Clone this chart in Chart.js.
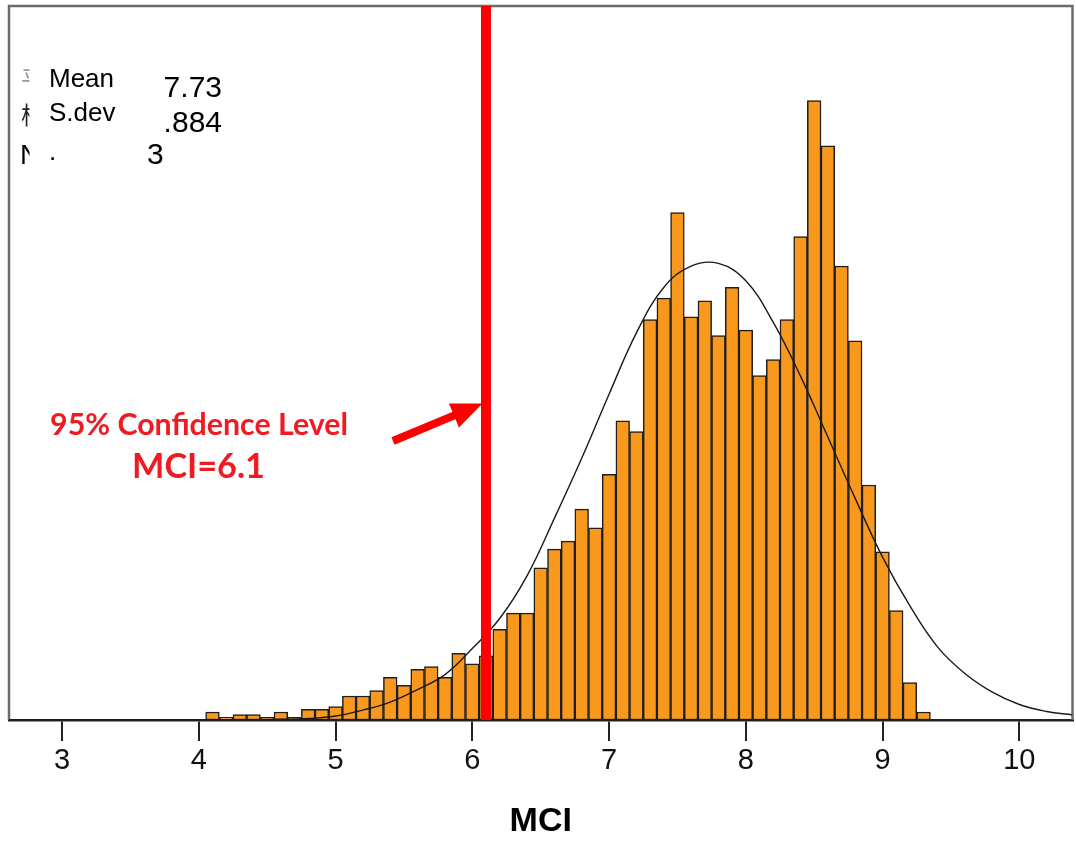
<!DOCTYPE html>
<html><head><meta charset="utf-8">
<script src="https://cdn.jsdelivr.net/npm/chart.js@4.4.1/dist/chart.umd.min.js"></script>
<style>html,body{margin:0;padding:0;background:#fff}canvas{display:block}</style>
</head><body>
<canvas id="c" width="1076" height="851"></canvas>
<script>
// ---- data ----
const binCenters = [4.1,4.2,4.3,4.4,4.5,4.6,4.7,4.8,4.9,5.0,
  5.1,5.2,5.3,5.4,5.5,5.6,5.7,5.8,5.9,6.0,
  6.1,6.2,6.3,6.4,6.5,6.6,6.7,6.8,6.9,7.0,
  7.1,7.2,7.3,7.4,7.5,7.6,7.7,7.8,7.9,8.0,
  8.1,8.2,8.3,8.4,8.5,8.6,8.7,8.8,8.9,9.0,
  9.1,9.2,9.3];
const frequencies = [3,1,2,2,1,3,1,4,4,5,
  9,9,11,16,13,19,20,16,25,21,
  24,34,40,40,57,64,67,79,72,92,
  112,108,150,158,190,151,157,144,162,146,
  129,135,150,181,232,215,170,142,88,63,
  41,14,3];
// normal curve at regular steps
const curveX = [2.61,3.0,3.5,4.0,4.2,4.4,4.6,4.8,5.0,5.2,5.4,5.6,5.8,6.0,6.2,6.4,6.6,6.8,7.0,7.2,7.4,7.6,7.8,8.0,8.2,8.4,8.6,8.8,9.0,9.2,9.4,9.6,9.8,10.0,10.2,10.389];
const curveY = [0,0,0,0.03,0.07,0.15,0.28,0.55,1.5,3.7,6.7,11.4,17,26.8,38,54,75.5,98,122,145,162,170,171,164.5,149,128.8,106,83,61,42.7,27.5,17.5,10.5,5.8,3.2,1.9];
const tickValues = [3,4,5,6,7,8,9,10];
const xMin = 2.612, xMax = 10.389, yMax = 267.4;
const cutoff = 6.1;
const statLabels = ['Mean','S.dev','.'];
const statValues = ['7.73','.884','3'];
const hiddenLabels = ['平','標','N'];
const annotationLines = ['95% Confidence Level','MCI=6.1'];
const arrowFrom = [5.42,104.5];
const arrowTo = [6.075,118.5];
const axisTitle = 'MCI';

Chart.defaults.font.family = "'Liberation Sans', Arial, sans-serif";

const overlay = {
  id: 'overlay',
  beforeDatasetsDraw(chart) {
    const {ctx, chartArea: a} = chart;
    ctx.save();
    ctx.strokeStyle = '#6b6b6b';
    ctx.lineWidth = 2.5;
    ctx.beginPath();
    ctx.moveTo(a.left, a.bottom); ctx.lineTo(a.left, a.top);
    ctx.lineTo(a.right, a.top); ctx.lineTo(a.right, a.bottom);
    ctx.stroke();
    ctx.restore();
  },
  afterDraw(chart) {
    const {ctx, scales: {x, y}} = chart;
    ctx.save();
    // clipped remnants of original labels
    ctx.save();
    ctx.beginPath(); ctx.rect(18, 60, 11.5, 110); ctx.clip();
    ctx.textAlign = 'left'; ctx.textBaseline = 'alphabetic';
    ctx.font = "24px 'Noto Sans CJK TC', sans-serif";
    ctx.fillStyle = '#999'; ctx.fillText(hiddenLabels[0], 21, 88);
    ctx.fillStyle = '#222'; ctx.fillText(hiddenLabels[1], 21, 124);
    ctx.font = "28px 'Liberation Sans', Arial, sans-serif";
    ctx.fillStyle = '#000'; ctx.fillText(hiddenLabels[2], 20, 164);
    ctx.restore();

    // stats box
    ctx.fillStyle = '#000';
    ctx.textBaseline = 'alphabetic';
    ctx.textAlign = 'left';
    ctx.font = "26px 'Liberation Sans', Arial, sans-serif";
    ctx.fillText(statLabels[0], 49, 87);
    ctx.fillText(statLabels[1], 49, 121);
    ctx.fillText(statLabels[2], 49, 160);
    ctx.font = "30px 'Liberation Sans', Arial, sans-serif";
    ctx.textAlign = 'right';
    ctx.fillText(statValues[0], 222, 97);
    ctx.fillText(statValues[1], 222, 132);
    ctx.textAlign = 'left';
    ctx.fillText(statValues[2], 147, 164);

    // annotation text
    ctx.fillStyle = '#f01a22';
    ctx.textAlign = 'center';
    const fit = (txt, w, base) => {
      ctx.font = "bold " + base + "px Lato, 'Open Sans', sans-serif";
      const m = ctx.measureText(txt).width;
      const s = base * w / m;
      ctx.font = "bold " + s.toFixed(2) + "px Lato, 'Open Sans', sans-serif";
    };
    fit(annotationLines[0], 298, 27);
    ctx.fillText(annotationLines[0], 199, 435);
    fit(annotationLines[1], 133, 32);
    ctx.fillText(annotationLines[1], 198.5, 478);

    // arrow
    const x0 = x.getPixelForValue(arrowFrom[0]), y0 = y.getPixelForValue(arrowFrom[1]);
    const x1 = x.getPixelForValue(arrowTo[0]), y1 = y.getPixelForValue(arrowTo[1]);
    const ang = Math.atan2(y1 - y0, x1 - x0);
    const hl = 31, hw = 13;
    const bx = x1 - hl * Math.cos(ang), by = y1 - hl * Math.sin(ang);
    ctx.strokeStyle = '#ff0000'; ctx.fillStyle = '#ff0000';
    ctx.lineWidth = 8; ctx.lineCap = 'butt';
    ctx.beginPath(); ctx.moveTo(x0, y0);
    ctx.lineTo(bx + 3 * Math.cos(ang), by + 3 * Math.sin(ang)); ctx.stroke();
    ctx.beginPath(); ctx.moveTo(x1, y1);
    ctx.lineTo(bx + hw * Math.sin(ang), by - hw * Math.cos(ang));
    ctx.lineTo(bx - hw * Math.sin(ang), by + hw * Math.cos(ang));
    ctx.closePath(); ctx.fill();
    ctx.restore();
  }
};

new Chart(document.getElementById('c'), {
  type: 'bar',
  data: {
    datasets: [
      {
        type: 'line',
        data: [{x: cutoff, y: 0}, {x: cutoff, y: yMax}],
        borderColor: '#ff0000', borderWidth: 10, pointRadius: 0,
        borderCapStyle: 'butt', fill: false, order: 1
      },
      {
        type: 'line',
        data: curveX.map((v, i) => ({x: v, y: curveY[i]})),
        borderColor: '#1a1a1a', borderWidth: 1.4, pointRadius: 0,
        tension: 0.4, fill: false, order: 2
      },
      {
        type: 'bar',
        data: binCenters.map((c, i) => ({x: c, y: frequencies[i]})),
        backgroundColor: '#F8991E', borderColor: '#1e1e1e', borderWidth: 1.5,
        borderSkipped: false, barPercentage: 1, categoryPercentage: 1,
        grouped: false, order: 3
      }
    ]
  },
  options: {
    responsive: false, animation: false, events: [],
    layout: {padding: {left: 9, right: 3.5, top: 6, bottom: 0}},
    plugins: {legend: {display: false}, tooltip: {enabled: false}},
    scales: {
      x: {
        type: 'linear', min: xMin, max: xMax, offset: false,
        afterBuildTicks: s => { s.ticks = tickValues.map(v => ({value: v})); },
        afterFit: s => { s.height = 131; },
        grid: {display: true, drawOnChartArea: false, drawTicks: true, tickLength: 21,
               color: '#222', lineWidth: 2, offset: false},
        border: {display: true, color: '#222', width: 2.5},
        ticks: {color: '#111', font: {size: 29}, padding: 3, maxRotation: 0, minRotation: 0,
                autoSkip: false, callback: v => String(v)},
        title: {display: true, text: axisTitle, color: '#000',
                font: {size: 34, weight: 'bold'}, padding: {top: 23, bottom: 8.6}}
      },
      y: {type: 'linear', display: false, min: 0, max: yMax}
    }
  },
  plugins: [overlay]
});
</script>
</body></html>
